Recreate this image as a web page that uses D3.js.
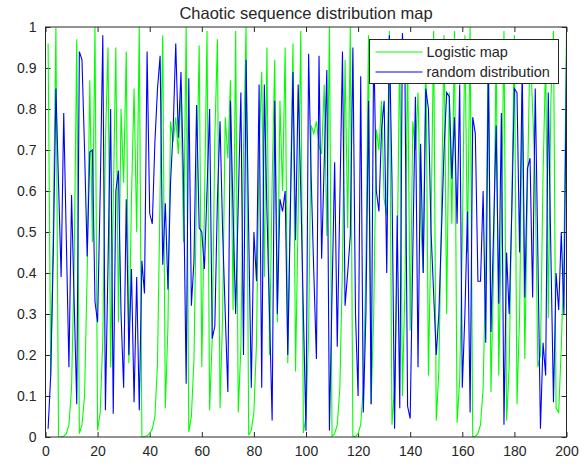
<!DOCTYPE html>
<html>
<head>
<meta charset="utf-8">
<script src="https://cdn.jsdelivr.net/npm/d3@7"></script>
<style>
  body { margin: 0; background: #fff; }
  text { font-family: "Liberation Sans", Arial, sans-serif; fill: #262626; }
</style>
</head>
<body>
<script>
// logistic map sequence (green)
var logistic = [
  0.96, 0.15, 0.52, 0.999, 0.0001, 0.0005, 0.002, 0.008, 0.03, 0.12,
  0.42, 0.97, 0.008, 0.03, 0.1, 0.4, 0.87, 0.475, 1.0, 0.016,
  0.06, 0.24, 0.72, 0.95, 0.17, 0.57, 0.95, 0.28, 0.8, 0.62,
  0.94, 0.18, 0.58, 0.85, 0.5, 1.0, 0.0005, 0.001, 0.003, 0.008,
  0.02, 0.05, 0.18, 0.6, 0.98, 0.07, 0.27, 0.77, 0.72, 0.78,
  0.69, 0.85, 0.475, 1.0, 0.012, 0.05, 0.19, 0.61, 0.955, 0.17,
  0.56, 0.99, 0.065, 0.24, 0.73, 0.97, 0.07, 0.3, 0.78, 0.68,
  0.87, 0.31, 0.99, 0.06, 0.22, 0.7, 1.0, 0.004, 0.016, 0.06,
  0.23, 0.7, 0.89, 0.39, 0.95, 0.2, 0.62, 0.92, 0.28, 0.82,
  0.6, 0.95, 0.18, 0.58, 0.96, 0.16, 0.55, 0.99, 0.01, 0.05,
  0.25, 0.76, 0.74, 0.77, 0.71, 0.69, 0.86, 0.49, 1.0, 0.002,
  0.008, 0.03, 0.12, 0.42, 0.92, 0.51, 1.0, 0.0005, 0.002, 0.008,
  0.03, 0.12, 0.42, 0.98, 0.08, 0.3, 0.75, 0.7, 0.82, 0.58,
  0.54, 0.99, 0.03, 0.12, 0.42, 0.97, 0.1, 0.37, 0.93, 0.26,
  0.77, 0.7, 0.84, 0.53, 0.4, 0.96, 0.15, 0.51, 0.99, 0.04,
  0.16, 0.55, 0.98, 0.3, 0.84, 0.52, 0.99, 0.035, 0.14, 0.48,
  0.98, 0.45, 1.0, 0.0005, 0.002, 0.008, 0.03, 0.12, 0.42, 0.97,
  0.11, 0.4, 0.96, 0.15, 0.52, 0.99, 0.04, 0.17, 0.57, 0.98,
  0.08, 0.3, 0.84, 0.19, 0.6, 0.96, 0.8, 0.63, 0.17, 0.2,
  0.64, 0.92, 0.29, 0.82, 0.99, 0.07, 0.06, 0.22, 0.43, 0.99
];
// uniform random sequence (blue)
var random = [
  0.02, 0.15, 0.45, 0.85, 0.62, 0.39, 0.79, 0.48, 0.17, 0.59,
  0.33, 0.08, 0.94, 0.92, 0.7, 0.44, 0.695, 0.7, 0.33, 0.28,
  0.6, 0.98, 0.065, 0.42, 0.8, 0.057, 0.6, 0.65, 0.3, 0.12,
  0.58, 0.2, 0.41, 0.085, 0.39, 0.065, 0.43, 0.35, 0.94, 0.545,
  0.52, 0.72, 0.85, 0.93, 0.42, 0.57, 0.36, 0.62, 0.75, 0.96,
  0.73, 0.89, 0.62, 0.13, 0.875, 0.32, 0.43, 0.81, 0.51, 0.5,
  0.41, 0.6, 0.8, 0.24, 0.27, 0.58, 0.77, 0.5, 0.3, 0.11,
  0.82, 0.55, 0.3, 0.57, 0.84, 0.2, 0.92, 0.5, 0.12, 0.5,
  0.38, 0.86, 0.12, 0.86, 0.55, 0.3, 0.04, 0.82, 0.3, 0.58,
  0.55, 0.6, 0.2, 0.55, 0.89, 0.48, 0.86, 0.6, 0.3, 0.015,
  0.935, 0.63, 0.4, 0.19, 0.93, 0.435, 0.67, 0.895, 0.016, 0.35,
  0.67, 0.22, 0.58, 0.94, 0.32, 0.4, 0.49, 0.95, 0.3, 0.1,
  0.88, 0.06, 0.3, 0.82, 0.08, 0.97, 0.6, 0.55, 0.75, 0.82,
  0.4, 0.98, 0.63, 0.02, 0.54, 0.07, 0.985, 0.87, 0.075, 0.045,
  0.45, 0.83, 0.17, 0.715, 0.4, 0.85, 0.8, 0.5, 0.35, 0.2,
  0.3, 0.5, 0.7, 0.84, 0.83, 0.63, 0.78, 0.52, 0.86, 0.12,
  0.3, 0.55, 0.06, 0.78, 0.74, 0.38, 0.38, 0.6, 0.23, 0.92,
  0.256, 0.5, 0.76, 0.325, 0.79, 0.03, 0.45, 0.3, 0.55, 0.85,
  0.84, 0.45, 0.9, 0.34, 0.655, 0.68, 0.34, 0.85, 0.45, 0.02,
  0.23, 0.15, 0.84, 0.45, 0.085, 0.4, 0.31, 0.5, 0.3, 0.93
];
var xTicks = [0, 20, 40, 60, 80, 100, 120, 140, 160, 180, 200];
var yTicks = [0, 0.1, 0.2, 0.3, 0.4, 0.5, 0.6, 0.7, 0.8, 0.9, 1];
var legendLabels = ["Logistic map", "random distribution"];
var lineColors = ["#00ff00", "#0000ff"];

var margin = {top: 27, right: 20.5, bottom: 27, left: 45.5};
var W = 587, H = 464;
var width = W - margin.left - margin.right,
    height = H - margin.top - margin.bottom;

var svg = d3.select("body").append("svg").attr("width", W).attr("height", H);
var g = svg.append("g").attr("transform", "translate(" + margin.left + "," + margin.top + ")");

var x = d3.scaleLinear().domain([0, 200]).range([0, width]);
var y = d3.scaleLinear().domain([0, 1]).range([height, 0]);

var tickLen = 5;
// bottom + top axes
g.append("g").attr("transform", "translate(0," + height + ")")
  .call(d3.axisBottom(x).tickValues(xTicks).tickSizeInner(-tickLen).tickSizeOuter(0).tickPadding(9));
g.append("g")
  .call(d3.axisTop(x).tickValues(xTicks).tickSizeInner(-tickLen).tickSizeOuter(0).tickFormat(""));
// left + right axes
g.append("g")
  .call(d3.axisLeft(y).tickValues(yTicks).tickSizeInner(-tickLen).tickSizeOuter(0).tickPadding(9)
    .tickFormat(function(d) { return d3.format("~g")(d); }));
g.append("g").attr("transform", "translate(" + width + ",0)")
  .call(d3.axisRight(y).tickValues(yTicks).tickSizeInner(-tickLen).tickSizeOuter(0).tickFormat(""));

g.selectAll(".domain").remove();
g.selectAll(".tick line").attr("stroke", "#262626");
g.selectAll(".tick text").style("font-size", "14px").attr("fill", "#262626");

// data lines
var clipId = "plotclip";
g.append("clipPath").attr("id", clipId).append("rect").attr("width", width).attr("height", height);
var line = d3.line().x(function(d, i) { return x(i + 1); }).y(function(d) { return y(d); });
var series = [logistic, random];
series.forEach(function(s, k) {
  g.append("path").datum(s)
    .attr("clip-path", "url(#" + clipId + ")")
    .attr("fill", "none")
    .attr("stroke", lineColors[k])
    .attr("stroke-width", 1.1)
    .attr("d", line);
});

// box
g.append("rect").attr("width", width).attr("height", height)
  .attr("fill", "none").attr("stroke", "#262626").attr("stroke-width", 1);

// title
svg.append("text").attr("x", margin.left + width / 2).attr("y", 19)
  .attr("text-anchor", "middle").style("font-size", "16.5px").attr("fill", "#000")
  .text("Chaotic sequence distribution map");

// legend
var lg = svg.append("g").attr("transform", "translate(369.5,39.5)");
lg.append("rect").attr("width", 189).attr("height", 44)
  .attr("fill", "#fff").attr("stroke", "#262626").attr("stroke-width", 1);
legendLabels.forEach(function(t, k) {
  var yy = 12.5 + k * 20;
  lg.append("line").attr("x1", 6).attr("x2", 53).attr("y1", yy).attr("y2", yy)
    .attr("stroke", lineColors[k]).attr("stroke-width", 1);
  lg.append("text").attr("x", 57).attr("y", yy + 5)
    .style("font-size", "14.5px").attr("fill", "#000").text(t);
});
</script>
</body>
</html>
